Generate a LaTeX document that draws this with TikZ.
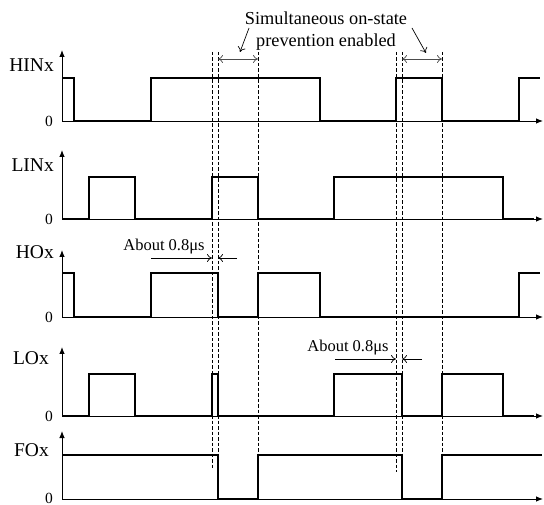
\documentclass[tikz,border=0pt]{standalone}
\usepackage{fontspec}
\setmainfont{Liberation Serif}
\usetikzlibrary{arrows.meta}
\begin{document}
\begin{tikzpicture}[x=1pt,y=-1pt,
  axis/.style={line width=0.9pt,-{Latex[length=7pt,width=5.5pt]}},
  sig/.style={line width=2pt,line join=miter},
  guide/.style={line width=0.6pt,dash pattern=on 3.5pt off 2pt},
  dimarrow/.style={line width=0.7pt,{To[length=5pt,width=8pt]}-{To[length=5pt,width=8pt]}},
  pointer/.style={line width=0.7pt,-{To[length=5pt,width=8pt]}},
  lab/.style={anchor=east,inner sep=0pt,font=\fontsize{19.5}{22}\selectfont},
  zero/.style={anchor=east,inner sep=0pt,font=\fontsize{15.5}{17}\selectfont},
  note/.style={inner sep=0pt,font=\fontsize{16.5}{19}\selectfont},
]
\useasboundingbox (0,0) rectangle (544,505);

% axes
\foreach \b/\t in {121/50,219/150,317/250,416/347,499/431}{
  \draw[axis] (62,\b) -- (62,\t);
  \draw[axis] (62,\b) -- (543,\b);
}

% labels
\node[lab] (hin) at (54,65) {HINx};
\node[lab] (lin) at (54,165) {LINx};
\node[lab] (ho) at (54,252) {HOx};
\node[lab] (lo) at (49,358) {LOx};
\node[lab] (fo) at (49,450) {FOx};
\node[zero] (z1) at (53,121) {0};
\node[zero] (z2) at (53,219) {0};
\node[zero] (z3) at (53,317) {0};
\node[zero] (z4) at (53,416) {0};
\node[zero] (z5) at (53,498) {0};

% signals
\draw[sig] (62,78) -| (74,121) -| (151,78) -| (320,121) -| (396,78) -| (442,121) -| (519,78) -- (540,78);
\draw[sig] (62,219) -| (89,177) -| (135,219) -| (212,177) -| (258,219) -| (334,177) -| (503,219) -- (534,219);
\draw[sig] (62,273) -| (74,317) -| (151,273) -| (218,317) -| (258,273) -| (320,317) -| (519,273) -- (540,273);
\draw[sig] (62,416) -| (89,374) -| (135,416) -| (212,374) -| (218,416) -| (334,374) -| (402,416) -| (442,374) -| (503,416) -- (534,416);
\draw[sig,line width=1.6pt] (62,455) -| (218,499) -| (258,455) -| (402,499) -| (442,455) -- (542,455);

% guide lines
\draw[guide] (212,52) -- (212,468);
\draw[guide] (218,52) -- (218,500);
\draw[guide] (258,52) -- (258,500);
\draw[guide] (396,52) -- (396,472);
\draw[guide] (402,52) -- (402,500);
\draw[guide] (442,52) -- (442,500);

% simultaneous on-state prevention
\node[inner sep=0pt,align=center,font=\fontsize{18.3}{22}\selectfont] (ann) at (326,31) {Simultaneous on-state\\prevention enabled};
\coordinate (a1) at (218,59); \coordinate (a2) at (258,59);
\coordinate (b1) at (402,59); \coordinate (b2) at (442,59);
\draw[dimarrow,gray!60!black] (a1) -- (a2);
\draw[dimarrow,gray!60!black] (b1) -- (b2);
\coordinate (p1s) at (249,28); \coordinate (p1e) at (240,52);
\coordinate (p2s) at (412,28); \coordinate (p2e) at (426,53);
\draw[pointer] (p1s) -- (p1e);
\draw[pointer] (p2s) -- (p2e);

% about 0.8 us (1)
\node[note] (t1) at (164,247) {About 0.8μs};
\coordinate (c1) at (151,258); \coordinate (c2) at (212,258);
\coordinate (c3) at (237,258); \coordinate (c4) at (218,258);
\draw[pointer] (c1) -- (c2);
\draw[pointer] (c3) -- (c4);

% about 0.8 us (2)
\node[note] (t2) at (348,348) {About 0.8μs};
\coordinate (d1) at (335,359); \coordinate (d2) at (396,359);
\coordinate (d3) at (422,359); \coordinate (d4) at (402,359);
\draw[pointer] (d1) -- (d2);
\draw[pointer] (d3) -- (d4);
\end{tikzpicture}
\end{document}
